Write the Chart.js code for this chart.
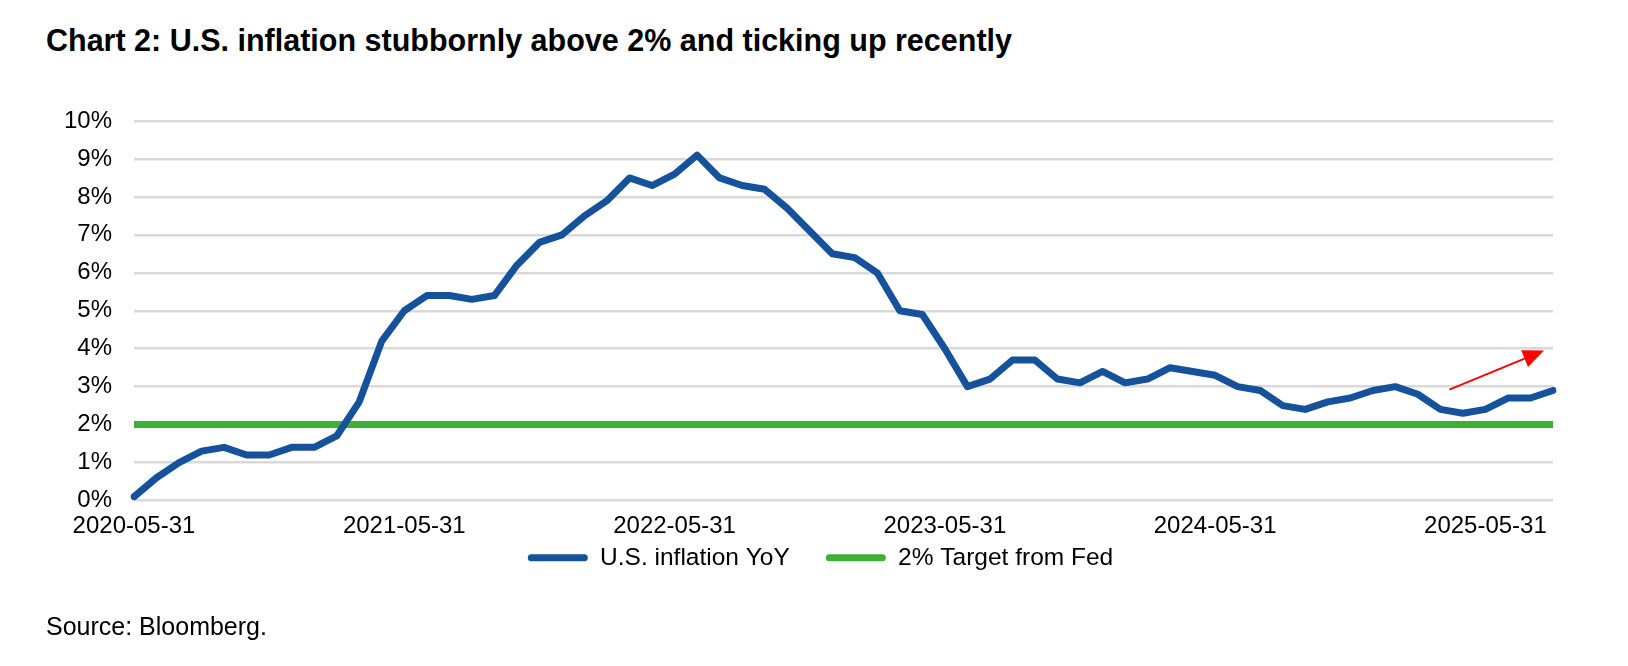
<!DOCTYPE html>
<html>
<head>
<meta charset="utf-8">
<script src="https://cdn.jsdelivr.net/npm/chart.js@4.4.1/dist/chart.umd.min.js"></script>
<style>
  body { margin: 0; width: 1628px; height: 666px; position: relative; background: #fff; font-family: 'Liberation Sans', Arial, sans-serif; }
  #title { position: absolute; left: 46px; top: 23px; font-weight: bold; font-size: 30.5px; color: #000; white-space: nowrap; }
  #chartBox { position: absolute; left: 0; top: 0; width: 1628px; height: 640px; }
  #source { position: absolute; left: 46px; top: 612px; font-size: 25px; color: #000; }
</style>
</head>
<body>
<div id="title">Chart 2: U.S. inflation stubbornly above 2% and ticking up recently</div>
<div id="chartBox"><canvas id="cpiChart"></canvas></div>
<div id="source">Source: Bloomberg.</div>
<script>
// month-end dates
var dates = [
  '2020-05-31','2020-06-30','2020-07-31','2020-08-31','2020-09-30','2020-10-31','2020-11-30','2020-12-31',
  '2021-01-31','2021-02-28','2021-03-31','2021-04-30','2021-05-31','2021-06-30','2021-07-31','2021-08-31',
  '2021-09-30','2021-10-31','2021-11-30','2021-12-31','2022-01-31','2022-02-28','2022-03-31','2022-04-30',
  '2022-05-31','2022-06-30','2022-07-31','2022-08-31','2022-09-30','2022-10-31','2022-11-30','2022-12-31',
  '2023-01-31','2023-02-28','2023-03-31','2023-04-30','2023-05-31','2023-06-30','2023-07-31','2023-08-31',
  '2023-09-30','2023-10-31','2023-11-30','2023-12-31','2024-01-31','2024-02-29','2024-03-31','2024-04-30',
  '2024-05-31','2024-06-30','2024-07-31','2024-08-31','2024-09-30','2024-10-31','2024-11-30','2024-12-31',
  '2025-01-31','2025-02-28','2025-03-31','2025-04-30','2025-05-31','2025-06-30','2025-07-31','2025-08-31'
];

// U.S. CPI YoY, %
var cpiYoY = [
  0.1, 0.6, 1.0, 1.3, 1.4, 1.2, 1.2, 1.4,
  1.4, 1.7, 2.6, 4.2, 5.0, 5.4, 5.4, 5.3,
  5.4, 6.2, 6.8, 7.0, 7.5, 7.9, 8.5, 8.3,
  8.6, 9.1, 8.5, 8.3, 8.2, 7.7, 7.1, 6.5,
  6.4, 6.0, 5.0, 4.9, 4.0, 3.0, 3.2, 3.7,
  3.7, 3.2, 3.1, 3.4, 3.1, 3.2, 3.5, 3.4,
  3.3, 3.0, 2.9, 2.5, 2.4, 2.6, 2.7, 2.9,
  3.0, 2.8, 2.4, 2.3, 2.4, 2.7, 2.7, 2.9
];

// Fed target line, from first to last date
var targetDates = ['2020-05-31', '2025-08-31'];
var targetValues = [2, 2];

// dates that get a label on the x axis
var tickDates = ['2020-05-31', '2021-05-31', '2022-05-31', '2023-05-31', '2024-05-31', '2025-05-31'];

// red "ticking up" arrow, [date index, %]
var arrowFrom = [58.4, 2.92];
var arrowTo = [62.6, 3.95];

var blue = '#15529b';
var green = '#3eb032';

Chart.defaults.font.family = "'Liberation Sans', Arial, sans-serif";
Chart.defaults.font.size = 24;
Chart.defaults.color = '#000';

var arrowPlugin = {
  id: 'arrow',
  afterDatasetsDraw: function(chart) {
    var x = chart.scales.x, y = chart.scales.y, ctx = chart.ctx;
    var x1 = x.getPixelForValue(arrowFrom[0]), y1 = y.getPixelForValue(arrowFrom[1]);
    var x2 = x.getPixelForValue(arrowTo[0]), y2 = y.getPixelForValue(arrowTo[1]);
    var ang = Math.atan2(y2 - y1, x2 - x1);
    var headLen = 21, headW = 9;
    var bx = x2 - headLen * Math.cos(ang), by = y2 - headLen * Math.sin(ang);
    ctx.save();
    ctx.strokeStyle = '#ff0000';
    ctx.fillStyle = '#ff0000';
    ctx.lineWidth = 2;
    ctx.beginPath();
    ctx.moveTo(x1, y1);
    ctx.lineTo(bx, by);
    ctx.stroke();
    ctx.beginPath();
    ctx.moveTo(x2, y2);
    ctx.lineTo(bx + headW * Math.sin(ang), by - headW * Math.cos(ang));
    ctx.lineTo(bx - headW * Math.sin(ang), by + headW * Math.cos(ang));
    ctx.closePath();
    ctx.fill();
    ctx.restore();
  }
};

// legend label padding is also used vertically; pull the legend row back up under the axis
// and move it a bit right, the original sits off-centre
var legendNudge = {
  id: 'legendNudge',
  afterLayout: function(chart) {
    var lg = chart.legend;
    lg.top -= 31;
    lg.bottom -= 31;
    lg.left += 44;
    lg.right += 44;
  }
};

var ctx = document.getElementById('cpiChart');
var chart = new Chart(ctx, {
  type: 'line',
  data: {
    labels: dates,
    datasets: [{
      label: 'U.S. inflation YoY',
      data: cpiYoY,
      borderColor: blue,
      backgroundColor: blue,
      borderWidth: 7,
      pointRadius: 0,
      tension: 0,
      borderJoinStyle: 'round',
      borderCapStyle: 'round',
      order: 1
    }, {
      label: '2% Target from Fed',
      data: targetDates.map(function(d, i) { return { x: d, y: targetValues[i] }; }),
      borderColor: green,
      backgroundColor: green,
      borderWidth: 7,
      pointRadius: 0,
      tension: 0,
      order: 2
    }]
  },
  options: {
    responsive: true,
    maintainAspectRatio: false,
    animation: false,
    layout: { padding: { left: 0, right: 75, top: 121, bottom: 29 } },
    plugins: {
      tooltip: { enabled: false },
      legend: {
        position: 'bottom',
        labels: {
          font: { size: 24.5 },
          boxWidth: 60,
          boxHeight: 7,
          padding: 36,
          useBorderRadius: true,
          borderRadius: 3.5,
          generateLabels: function(c) {
            return c.data.datasets.map(function(ds, i) {
              return {
                text: ds.label,
                fillStyle: ds.borderColor,
                strokeStyle: ds.borderColor,
                lineWidth: 0,
                borderRadius: 3.5,
                datasetIndex: i
              };
            });
          }
        }
      }
    },
    scales: {
      x: {
        afterFit: function(s) { s.height = 40; },
        grid: { display: false },
        border: { display: false },
        ticks: {
          autoSkip: false,
          maxRotation: 0,
          padding: 3,
          callback: function(val, idx) {
            var d = this.getLabelForValue(val);
            return tickDates.indexOf(d) >= 0 ? d : null;
          }
        }
      },
      y: {
        min: 0,
        max: 10,
        afterFit: function(s) { s.width = 134; },
        grid: { color: '#d9d9d9', lineWidth: 2.5, drawTicks: false },
        border: { display: false },
        ticks: {
          stepSize: 1,
          padding: 22,
          callback: function(v) { return v + '%'; }
        }
      }
    }
  },
  plugins: [arrowPlugin, legendNudge]
});
</script>
</body>
</html>
